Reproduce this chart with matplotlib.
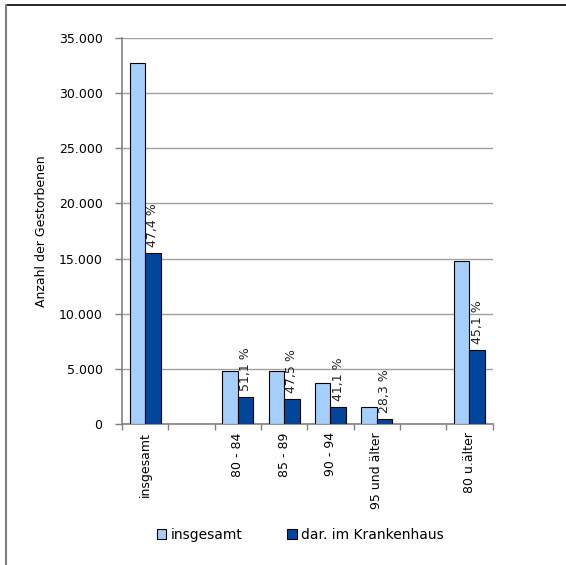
import matplotlib.pyplot as plt
import numpy as np
from matplotlib.lines import Line2D

plt.rcParams['font.family'] = ['DejaVu Sans']

categories = ['insgesamt', '', '80 - 84', '85 - 89', '90 - 94', '95 und älter', '', '80 u.älter']
insgesamt = [32700, np.nan, 4770, 4830, 3690, 1510, np.nan, 14800]
krankenhaus = [15500, np.nan, 2420, 2290, 1510, 430, np.nan, 6680]
anteil = ['47,4 %', '', '51,1 %', '47,5 %', '41,1 %', '28,3 %', '', '45,1 %']

light = '#A6CEFA'
dark = '#00479B'
fs = 9

fig = plt.figure(figsize=(5.66, 5.65), dpi=100)
ax = fig.add_axes([122 / 566, 1 - 424 / 565, 370.5 / 566, 386 / 565])

x = np.arange(len(categories))
w = 0.335
ax.bar(x - w / 2, insgesamt, w, color=light, edgecolor='black', linewidth=0.8, label='insgesamt', zorder=3)
ax.bar(x + w / 2, krankenhaus, w, color=dark, edgecolor='black', linewidth=0.8, label='dar. im Krankenhaus', zorder=3)

for xi, v, t in zip(x, krankenhaus, anteil):
    if t:
        ax.text(xi + w / 2, v + 550, t, rotation=90, ha='center', va='bottom', fontsize=fs, color='#222222')

ax.set_xlim(-0.5, len(categories) - 0.5)
ax.set_ylim(0, 35000)
ax.set_yticks(np.arange(0, 35001, 5000))
ax.set_yticklabels(['0' if v == 0 else f'{v // 1000}.000' for v in range(0, 35001, 5000)], fontsize=fs)
ax.yaxis.grid(True, color='#a0a0a0', linewidth=1.0, zorder=0)

ax.set_xticks(x)
ax.set_xticklabels(categories, rotation=90, va='top', ha='center', fontsize=fs)
ax.set_xticks(np.arange(-0.5, len(categories), 1), minor=True)
ax.tick_params(axis='x', which='major', length=0, pad=6)
ax.tick_params(axis='x', which='minor', length=4, color='#808080', width=1)
ax.tick_params(axis='y', length=5, color='#808080', width=1, pad=9)

for s in ['top', 'right']:
    ax.spines[s].set_visible(False)
for s in ['left', 'bottom']:
    ax.spines[s].set_color('#808080')
    ax.spines[s].set_linewidth(1.2)

ax.set_ylabel('Anzahl der Gestorbenen', fontsize=fs, labelpad=8)

fig.legend(loc='center', bbox_to_anchor=(300 / 566, 1 - 535 / 565), ncol=2, frameon=False,
           fontsize=10, handlelength=0.7, handleheight=0.7, handletextpad=0.3, columnspacing=3.2)

# outer frame (top and left edge)
fig.add_artist(Line2D([6 / 566, 1], [1 - 5 / 565, 1 - 5 / 565], color='black', linewidth=1.2))
fig.add_artist(Line2D([6 / 566, 6 / 566], [0, 1 - 5 / 565], color='#808080', linewidth=1.5))

plt.savefig('out.png', dpi=100)
